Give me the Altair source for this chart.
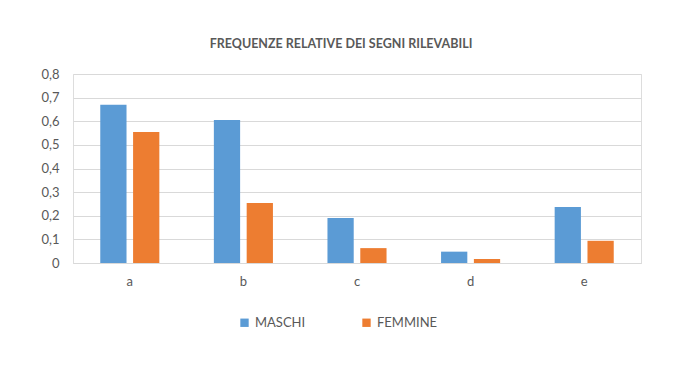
import altair as alt
import pandas as pd

categories = ["a", "b", "c", "d", "e"]
maschi = [0.67, 0.605, 0.19, 0.048, 0.237]
femmine = [0.555, 0.254, 0.063, 0.017, 0.094]
series = ["MASCHI", "FEMMINE"]
colors = ["#5b9bd5", "#ed7d31"]

rows = []
for i, c in enumerate(categories):
    rows.append({"cat": c, "serie": "MASCHI", "val": maschi[i]})
    rows.append({"cat": c, "serie": "FEMMINE", "val": femmine[i]})
df = pd.DataFrame(rows)

FONT = "Lato"
GRAY = "#595959"

chart = alt.Chart(df).mark_bar().encode(
    x=alt.X("cat:N", sort=categories, title=None,
            scale=alt.Scale(paddingInner=0.48, paddingOuter=0.24),
            axis=alt.Axis(labelAngle=0, ticks=False, domainColor="#d9d9d9",
                          labelColor=GRAY, labelFontSize=13, labelFont=FONT,
                          labelPadding=12, grid=False)),
    xOffset=alt.XOffset("serie:N", sort=series,
                        scale=alt.Scale(paddingInner=0.2)),
    y=alt.Y("val:Q", title=None,
            scale=alt.Scale(domain=[0, 0.8], nice=False),
            axis=alt.Axis(values=[0, 0.1, 0.2, 0.3, 0.4, 0.5, 0.6, 0.7, 0.8],
                          labelExpr="replace(format(datum.value, '.1~f'), '.', ',')",
                          domain=False, ticks=False, gridColor="#d9d9d9",
                          labelColor=GRAY, labelFontSize=13, labelFont=FONT,
                          labelPadding=14)),
    color=alt.Color("serie:N", sort=series,
                    scale=alt.Scale(domain=series, range=colors),
                    legend=alt.Legend(title=None, orient="none", direction="horizontal",
                                      legendX=165, legendY=242,
                                      symbolType="square", symbolSize=70,
                                      symbolStrokeWidth=0,
                                      labelFontSize=13, labelFont=FONT,
                                      labelColor=GRAY, columnPadding=54,
                                      symbolOffset=0, labelOffset=4)),
).properties(
    width=568,
    height=189,
    autosize=alt.AutoSizeParams(type="none"),
    padding={"left": 73, "top": 74, "right": 41, "bottom": 114},
    title=alt.TitleParams("FREQUENZE RELATIVE DEI SEGNI RILEVABILI",
                          font=FONT, fontSize=12.5, fontWeight="bold",
                          color=GRAY, offset=18, anchor="middle", dx=-16),
).configure_view(stroke=None).configure(background="white")

chart.save("out.html", embed_options={"renderer": "svg", "actions": False})
